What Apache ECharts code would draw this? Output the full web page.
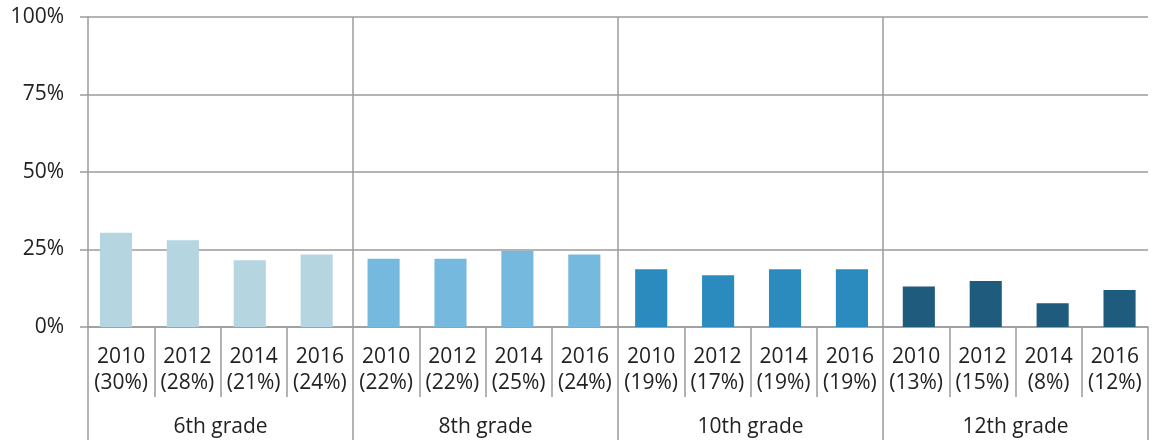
<!DOCTYPE html>
<html>
<head>
<meta charset="utf-8">
<script src="https://cdn.jsdelivr.net/npm/echarts@6/dist/echarts.min.js"></script>
<style>
  html, body { margin: 0; padding: 0; background: #fff; }
  #chart { width: 1153px; height: 445px; }
</style>
</head>
<body>
<div id="chart"></div>
<script>
var grades = ['6th grade', '8th grade', '10th grade', '12th grade'];
var years = ['2010', '2012', '2014', '2016'];
var gradeColors = ['#b5d6e1', '#76b9df', '#2b8bbf', '#1f5b7d'];
// rounded shares printed under each year
var labelPct = [30, 28, 21, 24, 22, 22, 25, 24, 19, 17, 19, 19, 13, 15, 8, 12];
// bar heights
var values = [30.4, 28, 21.5, 23.4, 22, 22, 24.6, 23.4, 18.6, 16.7, 18.6, 18.6, 13.1, 14.8, 7.7, 11.9];

var lineColor = '#9b9b9b';
var textColor = '#222';
var font = '"Open Sans", "Noto Sans", sans-serif';

var categories = [];
var barCats = [];
var barData = [];
for (var g = 0; g < grades.length; g++) {
  for (var y = 0; y < years.length; y++) {
    var i = g * years.length + y;
    categories.push(years[y] + '\n(' + labelPct[i] + '%)');
    barCats.push(grades[g] + ' ' + years[y]);
    barData.push({ value: values[i], itemStyle: { color: gradeColors[g] } });
  }
}

var chart = echarts.init(document.getElementById('chart'));
chart.setOption({
  animation: false,
  grid: [
    // axes / labels
    { left: 88, right: 5, top: 17, bottom: 118 },
    // bars sit on a slightly wider band in the original
    { left: 82.5, right: 0, top: 17, bottom: 118 }
  ],
  xAxis: [
    {
      type: 'category',
      gridIndex: 0,
      data: categories,
      axisLine: { show: true, lineStyle: { color: lineColor, width: 1.5 } },
      axisTick: { show: true, interval: 0, length: 70, lineStyle: { color: lineColor, width: 1.5 } },
      axisLabel: { interval: 0, margin: 17, fontSize: 21, lineHeight: 26, color: textColor, fontFamily: font },
      splitLine: { show: false }
    },
    {
      type: 'category',
      gridIndex: 0,
      data: grades,
      position: 'bottom',
      offset: 70,
      axisLine: { show: false },
      axisTick: { show: true, interval: 0, length: 43, lineStyle: { color: lineColor, width: 1.5 } },
      axisLabel: { interval: 0, margin: 20, fontSize: 21, color: textColor, fontFamily: font },
      splitLine: { show: true, showMinLine: false, showMaxLine: false, lineStyle: { color: lineColor, width: 1.5 } }
    },
    {
      type: 'category',
      gridIndex: 1,
      data: barCats,
      show: false
    }
  ],
  yAxis: [
    {
      type: 'value',
      gridIndex: 0,
      min: 0,
      max: 100,
      interval: 25,
      axisLine: { show: true, lineStyle: { color: lineColor, width: 1.5 } },
      axisTick: { show: true, length: 8, lineStyle: { color: lineColor, width: 1.5 } },
      axisLabel: { formatter: '{value}%', margin: 24, fontSize: 21, color: textColor, fontFamily: font },
      splitLine: { show: true, lineStyle: { color: lineColor, width: 1.5 } }
    },
    {
      type: 'value',
      gridIndex: 1,
      min: 0,
      max: 100,
      show: false
    }
  ],
  series: [{
    type: 'bar',
    xAxisIndex: 2,
    yAxisIndex: 1,
    data: barData,
    barWidth: '48%'
  }]
});
</script>
</body>
</html>
